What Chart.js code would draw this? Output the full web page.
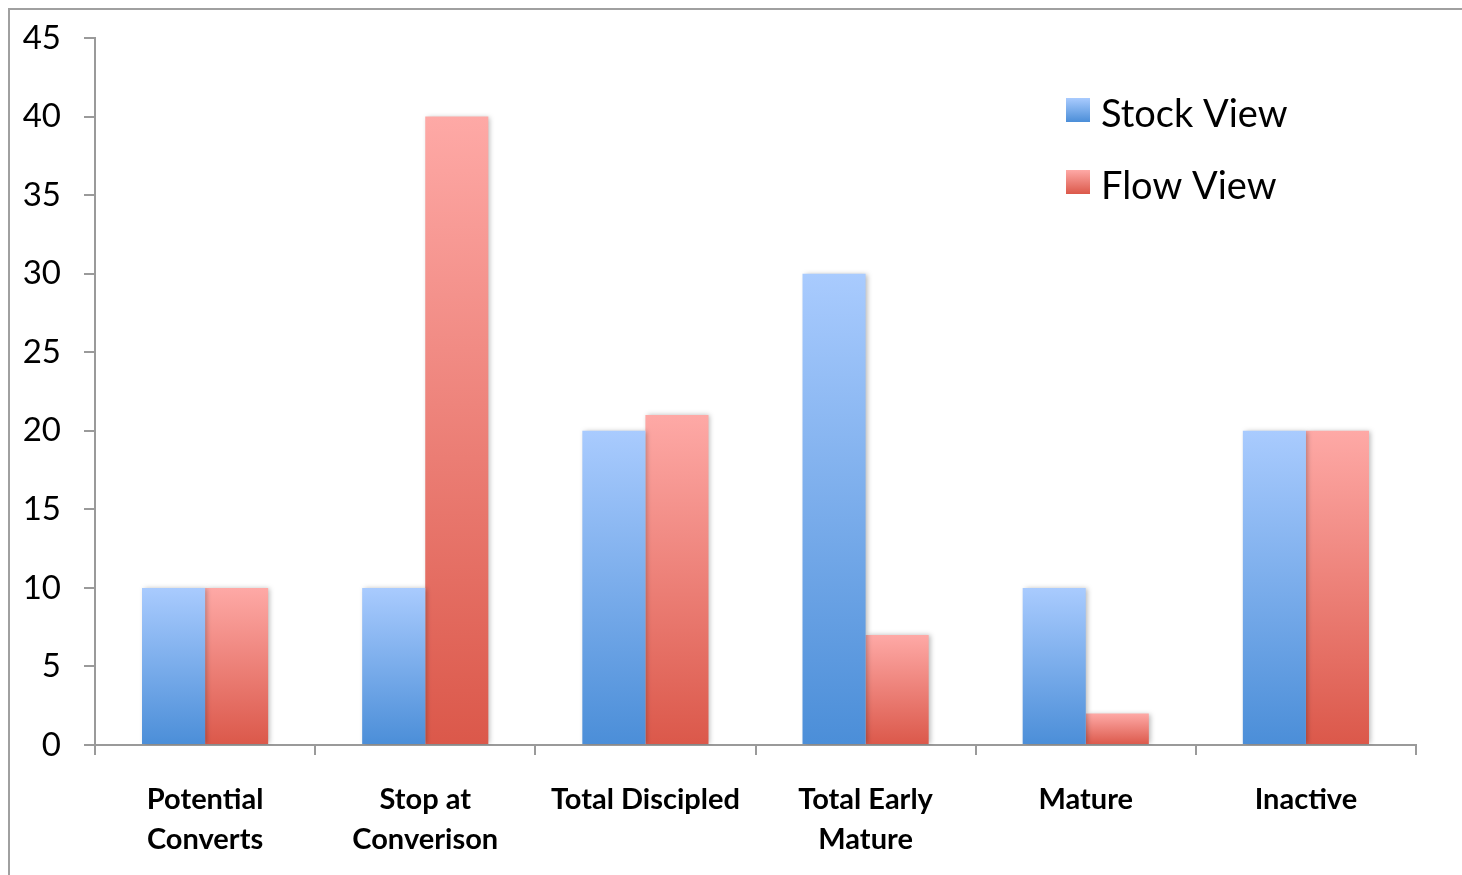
<!DOCTYPE html>
<html>
<head>
<meta charset="utf-8">
<script src="https://cdn.jsdelivr.net/npm/chart.js@4"></script>
<style>
html,body{margin:0;padding:0;background:#fff;}
#wrap{width:1462px;height:875px;position:relative;}
</style>
</head>
<body>
<div id="wrap"><canvas id="c" width="1462" height="875"></canvas></div>
<script>
const categories = [["Potential","Converts"],["Stop at","Converison"],"Total Discipled",["Total Early","Mature"],"Mature","Inactive"];
const seriesNames = ["Stock View","Flow View"];
const stockView = [10,10,20,30,10,20];
const flowView = [10,40,21,7,2,20];
const yTicks = {min:0,max:45,step:5};

const BLUE = ['#a9cbfe','#4b8ed8'];
const RED = ['#fea9a6','#db584a'];
const FONT = 'Lato, Carlito, "Open Sans", sans-serif';
const AXIS = '#9a9a9a';

function grad(colors){
  return function(ctx){
    const chart = ctx.chart;
    if(!chart.chartArea || ctx.type !== 'data' || !ctx.parsed) return colors[1];
    const ys = chart.scales.y;
    const y0 = ys.getPixelForValue(ctx.parsed.y), y1 = ys.getPixelForValue(0);
    if(!isFinite(y0) || !isFinite(y1) || y0 === y1) return colors[1];
    const g = chart.ctx.createLinearGradient(0,y0,0,y1);
    g.addColorStop(0,colors[0]); g.addColorStop(1,colors[1]);
    return g;
  };
}

const framePlugin = {
  id:'frame',
  beforeDraw(chart){
    const c = chart.ctx; c.save();
    c.strokeStyle = '#a0a0a0'; c.lineWidth = 2;
    c.beginPath(); c.moveTo(9,875); c.lineTo(9,9); c.lineTo(1462,9); c.stroke();
    c.restore();
  }
};
const shadowPlugin = {
  id:'shadow',
  beforeDatasetsDraw(chart){
    const c = chart.ctx; c.save();
    c.shadowColor = 'rgba(0,0,0,0.28)'; c.shadowBlur = 5; c.shadowOffsetX = 2; c.shadowOffsetY = 0;
  },
  afterDatasetsDraw(chart){ chart.ctx.restore(); }
};
const legendPlugin = {
  id:'customLegend',
  afterDraw(chart){
    const c = chart.ctx; c.save();
    const cols = [BLUE, RED];
    const x = 1066, ys = [98,170], s = 24;
    chart.data.datasets.forEach((ds,i)=>{
      const g = c.createLinearGradient(0,ys[i],0,ys[i]+s);
      g.addColorStop(0,cols[i][0]); g.addColorStop(1,cols[i][1]);
      c.fillStyle = g; c.fillRect(x,ys[i],s,s);
      c.fillStyle = '#000'; c.font = '38px ' + FONT; c.textBaseline = 'middle'; c.textAlign = 'left';
      c.fillText(ds.label, 1101, ys[i]+s/2+5);
    });
    c.restore();
  }
};

new Chart(document.getElementById('c'), {
  type:'bar',
  data:{
    labels: categories,
    datasets:[
      {label:seriesNames[0], data:stockView, backgroundColor:grad(BLUE), borderWidth:0},
      {label:seriesNames[1], data:flowView, backgroundColor:grad(RED), borderWidth:0}
    ]
  },
  options:{
    responsive:false, animation:false,
    layout:{padding:{left:0,right:46,top:38,bottom:0}},
    plugins:{legend:{display:false}, tooltip:{enabled:false}},
    datasets:{bar:{categoryPercentage:0.573, barPercentage:1.0}},
    scales:{
      x:{
        afterFit(s){ s.height = 130; s.paddingLeft = 0; s.paddingRight = 0; },
        grid:{offset:true, drawOnChartArea:false, drawTicks:true, tickLength:10, color:AXIS, lineWidth:2},
        border:{display:true, color:AXIS, width:2},
        ticks:{color:'#000', font:{family:FONT, size:29, weight:'bold', lineHeight:1.38}, padding:25, maxRotation:0, autoSkip:false}
      },
      y:{
        min:yTicks.min, max:yTicks.max,
        afterFit(s){ s.width = 95; s.paddingTop = 0; s.paddingBottom = 0; },
        grid:{drawOnChartArea:false, drawTicks:true, tickLength:11, color:AXIS, lineWidth:2},
        border:{display:true, color:AXIS, width:2},
        ticks:{stepSize:yTicks.step, color:'#000', font:{family:FONT, size:33}, padding:23}
      }
    }
  },
  plugins:[framePlugin, shadowPlugin, legendPlugin]
});
</script>
</body>
</html>
